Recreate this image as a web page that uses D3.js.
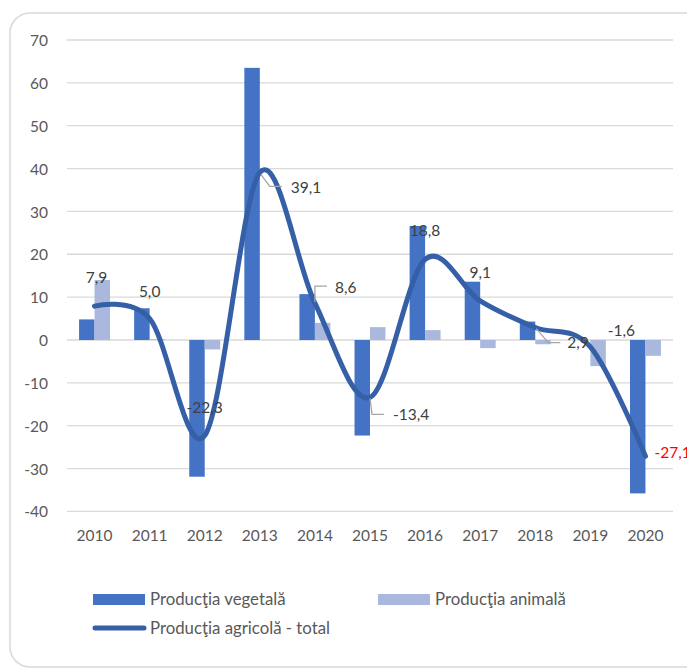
<!DOCTYPE html>
<html>
<head>
<meta charset="utf-8">
<script src="https://cdn.jsdelivr.net/npm/d3@7/dist/d3.min.js"></script>
<style>
  html, body { margin: 0; padding: 0; background: #fff; }
  svg { display: block; }
  text { font-family: Lato, "Open Sans", sans-serif; }
</style>
</head>
<body>
<div id="chart"></div>
<script>
// ---- data ----
const years = ["2010","2011","2012","2013","2014","2015","2016","2017","2018","2019","2020"];
const vegetala = [4.8, 7.4, -31.9, 63.5, 10.7, -22.3, 26.6, 13.6, 4.3, 0.0, -35.8];
const animala  = [14.0, 0.2, -2.2, 0.0, 4.0, 3.0, 2.3, -1.9, -1.0, -6.1, -3.7];
const total    = [7.9, 5.0, -22.3, 39.1, 8.6, -13.4, 18.8, 9.1, 2.9, -1.6, -27.1];
const totalLabels = ["7,9","5,0","-22,3","39,1","8,6","-13,4","18,8","9,1","2,9","-1,6","-27,1"];
const yTicks = [-40, -30, -20, -10, 0, 10, 20, 30, 40, 50, 60, 70];
const seriesNames = ["Producţia vegetală", "Producţia animală", "Producţia agricolă - total"];

// ---- layout (label placement, not data) ----
const labelLayout = [
  {dx: 2,  dy: -23, anchor: "middle"},
  {dx: 0,  dy: -22, anchor: "middle"},
  {dx: 0,  dy: -23, anchor: "middle"},
  {dx: 31, dy: 21,  anchor: "start", leader: [[1,2],[10,14],[22,14]]},
  {dx: 20, dy: -10, anchor: "start", leader: [[0,-1],[0,-17],[12,-17]]},
  {dx: 23, dy: 23,  anchor: "start", leader: [[0,1],[2,17],[14,17]]},
  {dx: 0,  dy: -23, anchor: "middle"},
  {dx: 0,  dy: -23, anchor: "middle"},
  {dx: 32, dy: 20,  anchor: "start", leader: [[1,1],[13,15],[25,15]]},
  {dx: 31, dy: -11, anchor: "middle"},
  {dx: 9,  dy: 2,   anchor: "start", color: "#FF0000"}
];

const W = 687, H = 670;
const colVeg = "#4472C4", colAni = "#A9B8DC", colTot = "#355FA6";

const svg = d3.select("#chart").append("svg").attr("width", W).attr("height", H);

// card
svg.append("rect").attr("x", 10).attr("y", 13).attr("width", 720).attr("height", 654)
  .attr("rx", 20).attr("ry", 20).attr("fill", "#fff").attr("stroke", "#d9d9d9").attr("stroke-width", 1.5);

const x0 = d3.scaleBand().domain(years).range([67, 673]).padding(0);
const x1 = d3.scaleBand().domain(["veg","ani"]).range([0, x0.bandwidth()]).paddingInner(0).paddingOuter(0.78);
const y = d3.scaleLinear().domain([-40, 70]).range([511.4, 40]);

// gridlines
svg.append("g").selectAll("line").data(yTicks).join("line")
  .attr("x1", 67).attr("x2", 673)
  .attr("y1", d => y(d)).attr("y2", d => y(d))
  .attr("stroke", "#d9d9d9").attr("stroke-width", 1.3);

// y axis labels
const yAxis = d3.axisLeft(y).tickValues(yTicks).tickSize(0).tickPadding(0).tickFormat(d => String(d));
const gy = svg.append("g").attr("transform", "translate(48,0)").call(yAxis);
gy.select(".domain").remove();
gy.selectAll("text").attr("font-size", 15.5).attr("fill", "#595959").attr("font-family", "Lato").attr("dy", "0.36em");

// x axis labels
const xAxis = d3.axisBottom(x0).tickSize(0).tickPadding(0);
const gx = svg.append("g").attr("transform", "translate(0,530)").call(xAxis);
gx.select(".domain").remove();
gx.selectAll("text").attr("font-size", 15.5).attr("fill", "#595959").attr("font-family", "Lato").attr("dy", "0.71em");

// bars
const barG = svg.append("g");
years.forEach((yr, i) => {
  [["veg", vegetala[i], colVeg], ["ani", animala[i], colAni]].forEach(([k, v, c]) => {
    barG.append("rect")
      .attr("x", x0(yr) + x1(k))
      .attr("width", x1.bandwidth())
      .attr("y", Math.min(y(v), y(0)))
      .attr("height", Math.abs(y(v) - y(0)))
      .attr("fill", c);
  });
});

// line
const cx = (i) => x0(years[i]) + x0.bandwidth() / 2;
const line = d3.line().x((d, i) => cx(i)).y(d => y(d)).curve(d3.curveCardinal.tension(0));
svg.append("path").datum(total).attr("d", line)
  .attr("fill", "none").attr("stroke", colTot).attr("stroke-width", 5)
  .attr("stroke-linecap", "round").attr("stroke-linejoin", "round");

// labels + leaders
const lg = svg.append("g");
total.forEach((v, i) => {
  const px = cx(i), py = y(v), L = labelLayout[i];
  if (L.leader) {
    lg.append("polyline")
      .attr("points", L.leader.map(p => (px + p[0]) + "," + (py + p[1])).join(" "))
      .attr("fill", "none").attr("stroke", "#a6a6a6").attr("stroke-width", 1.3);
  }
  lg.append("text").attr("x", px + L.dx).attr("y", py + L.dy)
    .attr("text-anchor", L.anchor).attr("font-size", 15.5)
    .attr("fill", L.color || "#404040").text(totalLabels[i]);
});

// legend
const leg = svg.append("g");
leg.append("rect").attr("x", 93).attr("y", 594).attr("width", 52).attr("height", 11).attr("fill", colVeg);
leg.append("text").attr("x", 150).attr("y", 605).attr("font-size", 16.8).attr("fill", "#595959").text(seriesNames[0]);
leg.append("rect").attr("x", 378).attr("y", 594).attr("width", 52).attr("height", 11).attr("fill", colAni);
leg.append("text").attr("x", 435).attr("y", 605).attr("font-size", 16.8).attr("fill", "#595959").text(seriesNames[1]);
leg.append("line").attr("x1", 95).attr("x2", 144).attr("y1", 628).attr("y2", 628)
  .attr("stroke", colTot).attr("stroke-width", 5).attr("stroke-linecap", "round");
leg.append("text").attr("x", 150).attr("y", 634).attr("font-size", 16.8).attr("fill", "#595959").text(seriesNames[2]);
</script>
</body>
</html>
